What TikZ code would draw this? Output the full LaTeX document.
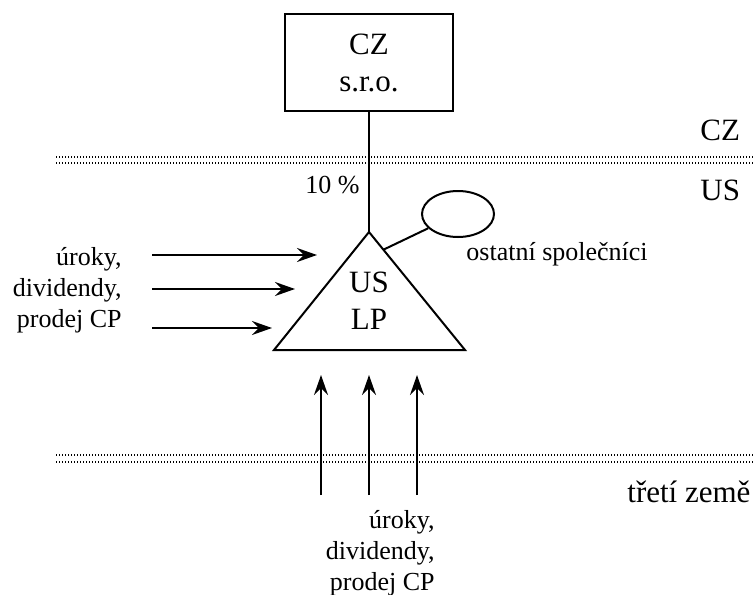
\documentclass[tikz,border=0pt]{standalone}
\usepackage{fontspec}
\setmainfont{LiberationSerif}[Extension = .ttf, UprightFont = *-Regular, BoldFont = *-Bold]
\usepackage{tikz}
\usetikzlibrary{arrows.meta}
\usetikzlibrary{shapes.geometric}
\usetikzlibrary{positioning}
\usetikzlibrary{calc}
\newcommand{\czbig}{\rmfamily\fontsize{15.5}{18.5}\selectfont}
\newcommand{\czsmall}{\rmfamily\fontsize{13}{15.5}\selectfont}
\tikzstyle{firm} = [draw, rectangle, line width = 1pt, minimum width = 84pt, minimum height = 48.5pt, align = center, inner sep = 0pt, font = \czbig]
\tikzstyle{partner} = [draw, ellipse, line width = 1pt, minimum width = 36pt, minimum height = 23pt, inner sep = 0pt]
\tikzstyle{flow} = [line width = 1pt, -{Stealth[length = 10pt, width = 7pt, inset = 3.5pt]}]
\tikzstyle{link} = [line width = 1pt]
\tikzstyle{frontier} = [line width = 0.6pt, dash pattern = on 0.6pt off 0.9pt]
\tikzstyle{note} = [inner sep = 0pt, font = \czsmall]

\begin{document}
\begin{tikzpicture}[x = 0.5pt, y = -0.5pt]
	\useasboundingbox (0,0) rectangle (754,594);
	
	% Czech company
	\node[firm] (czfirm) at (369,62.5) {CZ\\s.r.o.};
	
	% Borders between countries
	\draw[frontier] (56,157) -- (754,157);
	\draw[frontier] (56,163) -- (754,163);
	\draw[frontier] (56,455) -- (754,455);
	\draw[frontier] (56,462) -- (754,462);
	\node[note, font = \czbig, anchor = base west] (cz) at (700,140) {CZ};
	\node[note, font = \czbig, anchor = base west] (us) at (700,200) {US};
	\node[note, font = \czbig, anchor = base west] (third) at (627,502) {třetí země};
	
	% US LP triangle
	\coordinate (apex) at (369,232);
	\coordinate (lpleft) at (274,350);
	\coordinate (lpright) at (465,350);
	\draw[link] (apex) -- (lpleft) -- (lpright) -- cycle;
	\node[note, font = \czbig, align = center] (uslp) at (369,301) {US\\LP};
	\coordinate (lpedge) at ($(apex)!0.15!(lpright)$);
	
	% Share of the Czech company
	\draw[link] (czfirm) -- (apex);
	\node[note, anchor = base east] (share) at (360,193) {10 \%};
	
	% Other partners
	\node[partner] (partner) at (458,214) {};
	\draw[link] (lpedge) -- (partner);
	\node[note, anchor = base west] (others) at (466,260) {ostatní společníci};
	
	% Income from the US
	\node[note, align = right, anchor = north east] (usincome) at (122,247) {úroky,\\dividendy,\\prodej CP};
	\coordinate (a1) at (152,255);
	\coordinate (a2) at (152,289);
	\coordinate (a3) at (152,328);
	\coordinate (b1) at (317,255);
	\coordinate (b2) at (295,289);
	\coordinate (b3) at (272,328);
	
	% Income from third countries
	\node[note, align = right, anchor = north east] (income) at (435,510) {úroky,\\dividendy,\\prodej CP};
	\coordinate (c1) at (321,495);
	\coordinate (c2) at (369,495);
	\coordinate (c3) at (417,495);
	\coordinate (d1) at (321,375);
	\coordinate (d2) at (369,375);
	\coordinate (d3) at (417,375);
	
	% Connect all points defined above
	\draw[flow] (a1) -- (b1);
	\draw[flow] (a2) -- (b2);
	\draw[flow] (a3) -- (b3);
	\draw[flow] (c1) -- (d1);
	\draw[flow] (c2) -- (d2);
	\draw[flow] (c3) -- (d3);
	
\end{tikzpicture}
\end{document}
